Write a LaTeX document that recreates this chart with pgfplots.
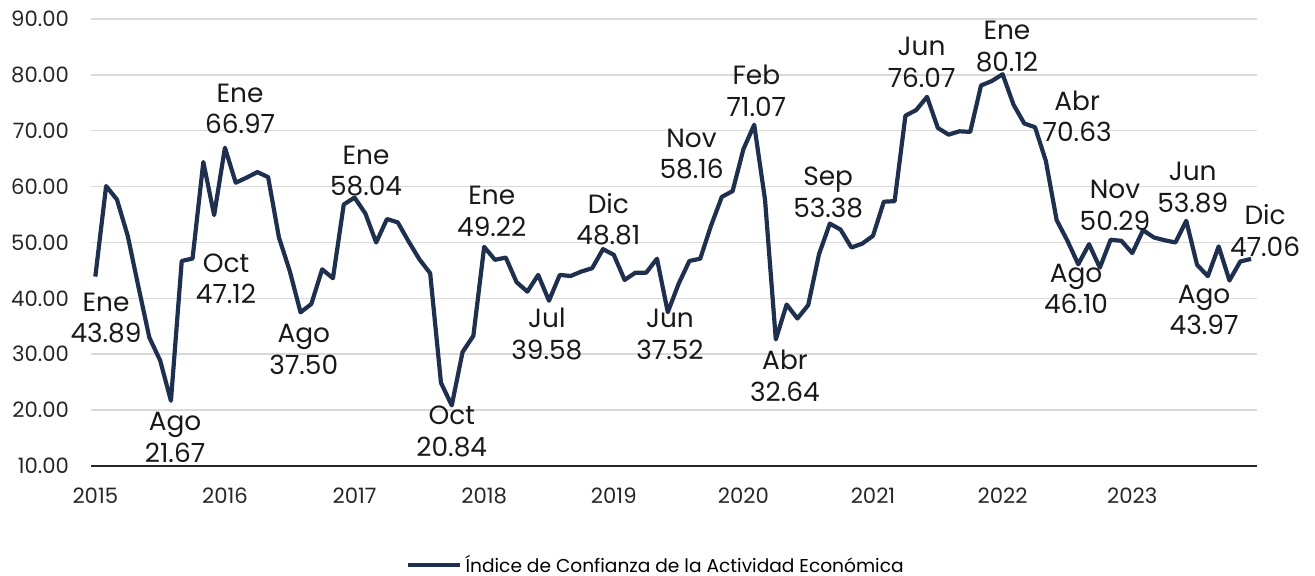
\documentclass[border=0pt]{standalone}
\usepackage{fontspec}
\setmainfont{Poppins}
\usepackage{pgfplots}
\pgfplotsset{compat=1.18}
\definecolor{navy}{RGB}{30,48,78}
\definecolor{gridgray}{RGB}{217,217,217}
\tikzset{lbl/.style={font=\fontsize{13.2}{15.8}\selectfont,align=center,inner sep=0pt,text=black!90}}
\begin{document}
\begin{tikzpicture}
\path[use as bounding box] (-45.5pt,-55pt) rectangle (612pt,233pt);
\begin{axis}[at={(0,0)},anchor=south west,scale only axis,width=583pt,height=223.5pt,
  xmin=-0.4,xmax=107.55,ymin=10,ymax=90,
  ytick={10,20,...,90},xtick={0,12,...,96},
  xticklabels={2015,2016,2017,2018,2019,2020,2021,2022,2023},
  major tick length=0,ymajorgrids,grid style={gridgray,line width=0.75pt},
  axis x line*=bottom,axis y line*=left,
  y axis line style={draw=none},x axis line style={-,draw=black!85,line width=0.8pt},
  tick label style={font=\fontsize{10.6}{12}\selectfont,text=black!85},
  yticklabel style={xshift=-7.5pt},xticklabel style={yshift=-7.5pt},
  /pgf/number format/.cd,fixed,fixed zerofill,precision=2,assume math mode=true,/pgfplots/.cd,
  clip=false,
  legend style={at={(0.485,-0.2215)},anchor=center,draw=none,font=\fontsize{9.3}{11}\selectfont},
  legend image code/.code={\draw[#1] (0pt,0pt) -- (26pt,0pt);}]
\addplot[navy,line width=2.1pt,line join=round] table[x=i,y=v] {
i v
0 43.89
1 60.1
2 57.7
3 51.2
4 42.0
5 33.0
6 28.9
7 21.67
8 46.7
9 47.12
10 64.4
11 54.9
12 66.97
13 60.7
14 61.6
15 62.6
16 61.7
17 50.9
18 44.9
19 37.50
20 39.0
21 45.2
22 43.6
23 56.8
24 58.04
25 55.2
26 50.0
27 54.2
28 53.6
29 50.2
30 47.0
31 44.5
32 24.9
33 20.84
34 30.4
35 33.3
36 49.22
37 46.9
38 47.3
39 42.9
40 41.2
41 44.2
42 39.58
43 44.2
44 44.0
45 44.8
46 45.4
47 48.81
48 47.8
49 43.3
50 44.6
51 44.6
52 47.1
53 37.52
54 42.6
55 46.7
56 47.1
57 53.0
58 58.16
59 59.2
60 66.7
61 71.07
62 57.7
63 32.64
64 38.9
65 36.4
66 38.8
67 47.9
68 53.38
69 52.3
70 49.1
71 49.8
72 51.2
73 57.3
74 57.4
75 72.7
76 73.7
77 76.07
78 70.5
79 69.3
80 69.9
81 69.8
82 78.1
83 78.9
84 80.12
85 74.7
86 71.3
87 70.63
88 64.6
89 54.0
90 50.3
91 46.10
92 49.7
93 45.5
94 50.5
95 50.29
96 48.1
97 52.2
98 50.9
99 50.4
100 50.0
101 53.89
102 46.0
103 43.97
104 49.3
105 43.2
106 46.6
107 47.06
};
\addlegendentry{Índice de Confianza de la Actividad Económica}
% data labels
\node[lbl] at (axis cs:0.99,36.5) {Ene\\43.89};
\node[lbl] at (axis cs:7.38,15.1) {Ago\\21.67};
\node[lbl] at (axis cs:12.1,43.5) {Oct\\47.12};
\node[lbl] at (axis cs:13.4,73.9) {Ene\\66.97};
\node[lbl] at (axis cs:19.3,30.9) {Ago\\37.50};
\node[lbl] at (axis cs:25.06,62.8) {Ene\\58.04};
\node[lbl] at (axis cs:33.0,16.2) {Oct\\20.84};
\node[lbl] at (axis cs:36.7,55.6) {Ene\\49.22};
\node[lbl] at (axis cs:41.8,33.6) {Jul\\39.58};
\node[lbl] at (axis cs:47.5,54.2) {Dic\\48.81};
\node[lbl] at (axis cs:53.2,33.6) {Jun\\37.52};
\node[lbl] at (axis cs:55.2,65.8) {Nov\\58.16};
\node[lbl] at (axis cs:61.2,77.1) {Feb\\71.07};
\node[lbl] at (axis cs:63.85,26.1) {Abr\\32.64};
\node[lbl] at (axis cs:67.85,59.0) {Sep\\53.38};
\node[lbl] at (axis cs:76.5,82.2) {Jun\\76.07};
\node[lbl] at (axis cs:84.4,85.1) {Ene\\80.12};
\node[lbl] at (axis cs:90.9,72.6) {Abr\\70.63};
\node[lbl] at (axis cs:90.8,41.7) {Ago\\46.10};
\node[lbl] at (axis cs:94.4,56.6) {Nov\\50.29};
\node[lbl] at (axis cs:101.6,59.8) {Jun\\53.89};
\node[lbl] at (axis cs:102.65,37.9) {Ago\\43.97};
\node[lbl] at (axis cs:108.3,52.1) {Dic\\47.06};
\end{axis}
\end{tikzpicture}
\end{document}
